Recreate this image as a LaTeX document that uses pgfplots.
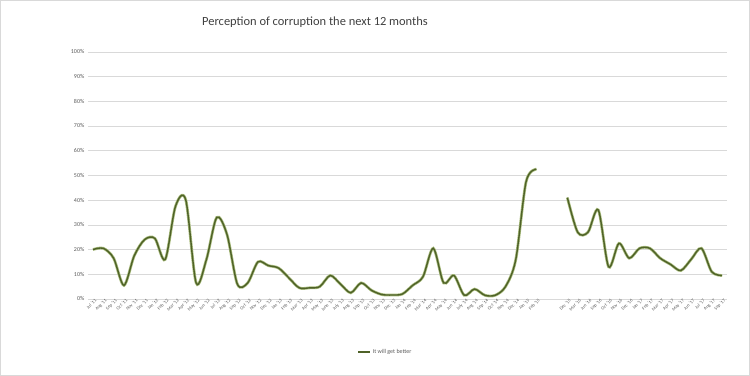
\documentclass[border=0pt]{standalone}
\usepackage{pgfplots}
\pgfplotsset{compat=1.18}
\usepackage{pgfplotstable}
\usepackage{fontspec}
\setmainfont{Carlito}
\definecolor{gridc}{HTML}{D9D9D9}
\definecolor{linedark}{HTML}{4F6228}
\definecolor{linelight}{HTML}{A9BC7E}
\definecolor{txt}{HTML}{595959}
\definecolor{titlec}{HTML}{404040}
\pgfplotstableread{
x y
0 20
1 20.5
2 16.5
3 5.5
4 17.5
5 24
6 24.5
7 16
8 37.5
9 40
10 6.5
11 16
12 33
13 26
14 6
15 6.5
16 15
17 13.5
18 12.5
19 8.5
20 4.5
21 4.5
22 5
23 9.5
24 6
25 2.5
26 6.5
27 3.5
28 1.8
29 1.6
30 2
31 5.5
32 9
33 20.5
34 6.5
35 9.5
36 1.5
37 4
38 1.5
39 1.5
40 5
41 16
42 47.5
43 52.5
}\segA
\pgfplotstableread{
x y
46 41
47 27
48 27
49 36
50 13
51 22.5
52 16.5
53 20.5
54 20.5
55 16.5
56 14
57 11.5
58 16
59 20.5
60 11
61 9.5
}\segB
\begin{document}
\begin{tikzpicture}[x=1bp,y=1bp]
\draw[gridc, line width=0.6bp] (0.5,0.5) rectangle (749.5,375.5);
\node[font=\fontsize{12.5}{14}\selectfont, text=titlec] at (315,354) {Perception of corruption the next 12 months};
\begin{axis}[
  at={(88bp,77bp)}, anchor=south west,
  scale only axis, width=639bp, height=247bp,
  xmin=-0.5, xmax=61.5, ymin=0, ymax=100,
  axis line style={draw=none},
  ytick={0,10,...,100},
  yticklabel={\pgfmathprintnumber{\tick}\%},
  yticklabel style={font=\fontsize{6}{7}\selectfont, text=txt},
  /pgf/number format/assume math mode=true,
  ymajorgrids, grid style={gridc, line width=0.6bp},
  major tick length=0pt,
  xtick={0,...,61},
  xticklabels={Jul '11,Aug '11,Sep '11,Oct '11,Nov '11,Dec '11,Jan '12,Feb '12,Mar '12,Apr '12,May '12,Jun '12,Jul '12,Aug '12,Sep '12,Oct '12,Nov '12,Dec '12,Jan '13,Feb '13,Mar '13,Apr '13,May '13,June '13,July '13,Aug '13,Sep '13,Oct '13,Nov '13,Dec '13,Jan '14,Feb '14,Mar '14,Apr '14,May '14,Jun '14,July '14,Aug '14,Sep '14,Oct '14,Nov '14,Dec '14,Jan '15,Feb '15,,,Dec '15,Mar '16,Jun '16,Sep '16,Oct '16,Nov '16,Dec '16,Jan '17,Feb '17,Mar '17,Apr '17,May '17,Jun '17,Jul '17,Aug '17,Sep '17},
  xticklabel style={font=\fontsize{4.6}{5.5}\selectfont, text=txt, rotate=45, anchor=north east, inner sep=0.5pt, xshift=2bp},
  legend style={at={(0.465,-0.215)}, anchor=center, draw=none, fill=none, font=\fontsize{6}{7}\selectfont, text=txt, legend columns=1},
  legend cell align=left,
  legend image code/.code={\draw[linelight, line width=2.6bp] (0cm,0cm) -- (0.4cm,0cm); \draw[linedark, line width=1.3bp] (0cm,0cm) -- (0.4cm,0cm);},
]
\addplot[linelight, line width=2.8bp, smooth, forget plot] table[x=x,y=y] {\segA};
\addplot[linedark, line width=1.4bp, smooth, forget plot] table[x=x,y=y] {\segA};
\addplot[linelight, line width=2.8bp, smooth, forget plot] table[x=x,y=y] {\segB};
\addplot[linedark, line width=1.4bp, smooth] table[x=x,y=y] {\segB};
\addlegendentry{It will get better}
\draw[gridc, line width=0.6bp] (axis cs:-0.5,0) -- (axis cs:61.5,0);
\end{axis}
\end{tikzpicture}
\end{document}
